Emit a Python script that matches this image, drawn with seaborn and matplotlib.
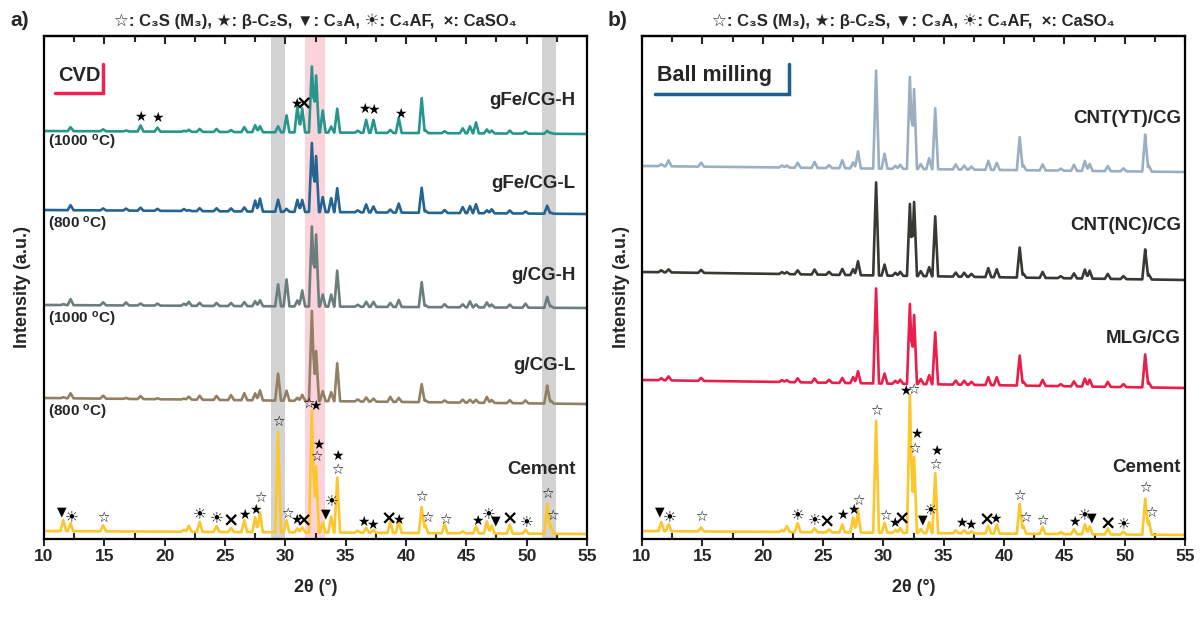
import numpy as np
import pandas as pd
import matplotlib
matplotlib.use("Agg")
import matplotlib.pyplot as plt
import seaborn as sns

# ---------------- data ----------------
# common reflection positions (2theta, deg)
two_theta = [11.6, 12.2, 14.9, 16.8, 18.0, 19.4, 21.6, 22.0, 22.9, 24.3,
             25.5, 26.6, 27.5, 27.9, 29.4, 30.1, 31.0, 31.4, 32.2, 32.55,
             33.1, 33.8, 34.3, 36.0, 36.7, 37.3, 38.7, 39.4, 41.3, 41.6,
             43.2, 44.7, 45.3, 45.8, 46.7, 47.1, 48.6, 49.9, 51.7, 52.0]

# peak intensities (a.u.) for each sample at the positions above
gFe_CG_H = [0, 4, 2, 1, 6, 4, 1, 2, 3, 3, 2, 5, 7, 6, 6, 17, 26, 24, 66, 57,
            22, 6, 24, 2, 13, 13, 3, 15, 35, 3, 2, 5, 7, 11, 4, 3, 3, 2, 3, 1]
gFe_CG_L = [0, 5, 2, 2, 3, 2, 2, 1, 3, 3, 3, 4, 11, 13, 12, 3, 12, 12, 69, 56,
            15, 14, 24, 2, 8, 6, 3, 9, 25, 2, 3, 6, 7, 9, 3, 4, 3, 2, 8, 1]
g_CG_H = [1, 6, 3, 3, 2, 2, 2, 4, 3, 3, 3, 4, 5, 6, 22, 27, 6, 16, 80, 72,
          12, 12, 36, 2, 5, 5, 4, 7, 25, 2, 3, 3, 6, 3, 5, 3, 3, 4, 11, 2]
g_CG_L = [1, 5, 3, 1, 3, 1, 1, 3, 4, 4, 5, 7, 7, 10, 27, 10, 3, 6, 90, 50,
          10, 9, 38, 2, 4, 3, 5, 4, 18, 2, 2, 3, 3, 3, 6, 3, 3, 3, 18, 3]
cement_a = [11, 8, 6, 0, 0, 0, 2, 6, 10, 6, 4, 12, 15, 20, 100, 12, 4, 5, 122, 66,
            10, 16, 55, 2, 5, 3, 11, 12, 26, 8, 9, 2, 0, 7, 12, 8, 9, 4, 30, 8]

CNT_YT_CG = [2, 6, 4, 0, 0, 0, 2, 2, 5, 6, 3, 8, 6, 17, 98, 15, 3, 4, 92, 80,
             5, 11, 61, 5, 4, 3, 9, 7, 33, 5, 6, 2, 0, 6, 10, 7, 5, 3, 37, 6]
CNT_NC_CG = [2, 3, 3, 0, 0, 0, 2, 2, 4, 5, 3, 6, 6, 14, 93, 11, 3, 4, 72, 74,
             5, 9, 60, 4, 4, 3, 9, 8, 30, 4, 6, 2, 0, 5, 9, 8, 5, 3, 30, 5]
MLG_CG = [2, 4, 3, 0, 0, 0, 2, 2, 4, 4, 3, 5, 6, 12, 95, 10, 3, 4, 80, 69,
          5, 9, 52, 4, 4, 3, 8, 8, 30, 4, 6, 2, 0, 5, 8, 7, 5, 3, 33, 5]
cement_b = [9, 7, 4, 0, 0, 0, 2, 6, 9, 4, 3, 8, 15, 22, 112, 10, 3, 5, 138, 76,
            4, 11, 60, 3, 3, 2, 8, 9, 30, 8, 7, 2, 0, 5, 10, 8, 6, 3, 36, 14]

samples_a = ["gFe/CG-H", "gFe/CG-L", "g/CG-H", "g/CG-L", "Cement"]
samples_b = ["CNT(YT)/CG", "CNT(NC)/CG", "MLG/CG", "Cement"]
temps_a = ["(1000 $^{o}$C)", "(800 $^{o}$C)", "(1000 $^{o}$C)", "(800 $^{o}$C)"]
phase_key = "☆: C₃S (M₃), ★: β-C₂S, ▼: C₃A, ☀: C₄AF,  ×: CaSO₄"

# phase marks: (2theta, phase, height above the pattern baseline)
marks_cement_a = [(11.5, 'v', 19), (12.3, 'f', 15), (14.9, 'o', 13), (22.9, 'f', 18),
                  (24.3, 'f', 14), (25.5, 'x', 11), (26.6, 's', 17), (27.5, 's', 22),
                  (27.95, 'o', 34), (29.4, 'o', 110), (30.15, 'o', 18), (30.9, 's', 12),
                  (31.55, 'x', 12), (31.9, 'o', 128), (32.5, 's', 127), (32.75, 's', 88),
                  (32.6, 'o', 75), (33.35, 'v', 19), (33.85, 'f', 32), (34.35, 's', 77),
                  (34.3, 'o', 63), (36.5, 's', 11), (37.2, 's', 8), (38.6, 'x', 14),
                  (39.4, 's', 13), (41.3, 'o', 36), (41.75, 'o', 15), (43.3, 'o', 13),
                  (45.9, 's', 12), (46.8, 'f', 20), (47.4, 'v', 13), (48.6, 'x', 15),
                  (50.0, 'f', 12), (51.7, 'o', 40), (52.1, 'o', 18)]
marks_gFe_H = [(18.0, 's', 15), (19.4, 's', 14), (30.95, 's', 28), (31.55, 'x', 29),
               (36.55, 's', 24), (37.3, 's', 23), (39.5, 's', 19)]
marks_cement_b = [(11.5, 'v', 19), (12.3, 'f', 15), (14.9, 'o', 14), (22.9, 'f', 18),
                  (24.3, 'f', 13), (25.3, 'x', 10), (26.6, 's', 18), (27.5, 's', 23),
                  (27.95, 'o', 32), (29.4, 'o', 122), (30.15, 'o', 17), (30.9, 's', 10),
                  (31.55, 'x', 14), (31.85, 's', 142), (32.45, 'o', 143), (32.7, 's', 99),
                  (32.55, 'o', 84), (33.3, 'v', 13), (33.9, 'f', 23), (34.4, 's', 82),
                  (34.3, 'o', 68), (36.5, 's', 10), (37.2, 's', 8), (38.6, 'x', 14),
                  (39.3, 's', 15), (41.3, 'o', 38), (41.75, 'o', 16), (43.2, 'o', 13),
                  (45.8, 's', 12), (46.7, 'f', 20), (47.3, 'v', 16), (48.6, 'x', 11),
                  (49.9, 'f', 11), (51.7, 'o', 47), (52.25, 'o', 22)]

# ---------------- style / layout ----------------
sns.set_style("ticks")
plt.rcParams['font.family'] = ['Liberation Sans', 'DejaVu Sans']
plt.rcParams['font.weight'] = 'bold'
plt.rcParams['axes.labelweight'] = 'bold'
plt.rcParams['mathtext.fontset'] = 'custom'
plt.rcParams['mathtext.rm'] = 'Liberation Sans:bold'
plt.rcParams['mathtext.it'] = 'Liberation Sans:bold'
plt.rcParams['mathtext.bf'] = 'Liberation Sans:bold'
plt.rcParams['mathtext.default'] = 'rm'

W, H = 1201, 620
BOT, TOP = 539, 36                 # pixel rows of the plot frame
A_LEFT, B_LEFT, AX_W = 44, 642, 543
HALF_W = 0.24                      # half base width of a reflection (deg)

colors_a = {"gFe/CG-H": "#26968c", "gFe/CG-L": "#246491", "g/CG-H": "#6c7d7d",
            "g/CG-L": "#918064", "Cement": "#fdc62a"}
colors_b = {"CNT(YT)/CG": "#9bafc3", "CNT(NC)/CG": "#373932", "MLG/CG": "#ea1e4b",
            "Cement": "#fdc62a"}
# baseline pixel rows at 2theta = 10 and 55 (vertical stacking of patterns)
stack_a = {"gFe/CG-H": (131, 134), "gFe/CG-L": (210, 214), "g/CG-H": (305, 308),
           "g/CG-L": (398, 404), "Cement": (531, 534)}
stack_b = {"CNT(YT)/CG": (166, 172), "CNT(NC)/CG": (272, 280), "MLG/CG": (380, 388),
           "Cement": (531, 535)}
label_rows_a = {"gFe/CG-H": 100, "gFe/CG-L": 183, "g/CG-H": 275, "g/CG-L": 365, "Cement": 470}
temp_rows_a = [142, 224, 319, 412]
label_rows_b = {"CNT(YT)/CG": 118, "CNT(NC)/CG": 225, "MLG/CG": 338, "Cement": 468}

GLYPH = {'o': ('☆', 10), 's': ('★', 10), 'v': ('▼', 9), 'f': ('☀', 11), 'x': ('×', 14)}

grid = np.linspace(10, 55, 4501)
pk = np.array(two_theta)


def baseline(stack, x):
    pl, pr = stack
    return BOT - (pl + (pr - pl) * (np.asarray(x) - 10) / 45.0)


def pattern(heights, stack):
    h = np.array(heights, dtype=float)
    tri = np.clip(1 - np.abs(grid[:, None] - pk[None, :]) / HALF_W, 0, None)
    return baseline(stack, grid) + tri @ h


def build(names, series, stacks):
    frames = []
    for n, s in zip(names, series):
        frames.append(pd.DataFrame({"two_theta": grid, "intensity": pattern(s, stacks[n]),
                                    "sample": n}))
    return pd.concat(frames, ignore_index=True)


df_a = build(samples_a, [gFe_CG_H, gFe_CG_L, g_CG_H, g_CG_L, cement_a], stack_a)
df_b = build(samples_b, [CNT_YT_CG, CNT_NC_CG, MLG_CG, cement_b], stack_b)

fig = plt.figure(figsize=(W / 100, H / 100), dpi=100)
ax_a = fig.add_axes([A_LEFT / W, 1 - BOT / H, AX_W / W, (BOT - TOP) / H])
ax_b = fig.add_axes([B_LEFT / W, 1 - BOT / H, AX_W / W, (BOT - TOP) / H])


def style_axis(ax):
    ax.set_xlim(10, 55)
    ax.set_ylim(0, BOT - TOP)
    ax.set_yticks([])
    ax.set_xticks(np.arange(10, 56, 5))
    ax.set_xticks(np.arange(12.5, 55, 5), minor=True)
    ax.tick_params(axis='x', which='major', direction='out', length=5, width=1.5,
                   labelsize=12.5, pad=2)
    ax.tick_params(axis='x', which='minor', direction='in', length=4, width=1.5)
    for sp in ax.spines.values():
        sp.set_visible(True)
        sp.set_linewidth(1.6)
        sp.set_color('black')
    sec = ax.secondary_xaxis('top')
    sec.set_xticks(np.arange(10, 56, 5))
    sec.set_xticks(np.arange(12.5, 55, 5), minor=True)
    sec.tick_params(axis='x', which='major', direction='in', length=6, width=1.5,
                    labeltop=False)
    sec.tick_params(axis='x', which='minor', direction='in', length=4, width=1.5)
    sec.spines['top'].set_linewidth(1.6)
    ax.set_xlabel("2θ (°)", fontsize=13, fontweight='bold', labelpad=11)
    ax.set_ylabel("Intensity (a.u.)", fontsize=13, fontweight='bold', labelpad=9)
    for lab in ax.get_xticklabels():
        lab.set_fontweight('bold')


def put_marks(ax, marks, stack):
    for x, ph, h in marks:
        g, fs = GLYPH[ph]
        ax.text(x, baseline(stack, x) + h, g, fontsize=fs, ha='center', va='center',
                color='black', family=['DejaVu Sans'], zorder=5)


# panel a
ax_a.axvspan(28.85, 29.95, color='#d3d3d3', lw=0, zorder=0)
ax_a.axvspan(31.65, 33.25, color='#fdd3db', lw=0, zorder=0)
ax_a.axvspan(51.3, 52.4, color='#d3d3d3', lw=0, zorder=0)
sns.lineplot(data=df_a, x="two_theta", y="intensity", hue="sample", palette=colors_a,
             hue_order=samples_a, sort=False, estimator=None, legend=False,
             linewidth=1.9, ax=ax_a)
style_axis(ax_a)
put_marks(ax_a, marks_cement_a, stack_a["Cement"])
put_marks(ax_a, marks_gFe_H, stack_a["gFe/CG-H"])
xr_a = 10 + (576 - A_LEFT) / 12.07
for n in samples_a:
    ax_a.text(xr_a, BOT - label_rows_a[n], n, fontsize=13.5, fontweight='bold',
              ha='right', va='center')
for t, r in zip(temps_a, temp_rows_a):
    ax_a.text(10.35, BOT - r, t, fontsize=11, fontweight='bold', ha='left', va='center')

# CVD tag
ax_a.text(0.026, 0.922, "CVD", transform=ax_a.transAxes, fontsize=14.5,
          fontweight='bold', ha='left', va='center')
ax_a.plot([0.02, 0.109, 0.109], [0.887, 0.887, 0.945], transform=ax_a.transAxes,
          color='#ee2255', lw=2.5, solid_joinstyle='miter', clip_on=False)

# panel b
sns.lineplot(data=df_b, x="two_theta", y="intensity", hue="sample", palette=colors_b,
             hue_order=samples_b, sort=False, estimator=None, legend=False,
             linewidth=1.9, ax=ax_b)
style_axis(ax_b)
put_marks(ax_b, marks_cement_b, stack_b["Cement"])
xr_b = 10 + (1181 - B_LEFT) / 12.07
for n in samples_b:
    ax_b.text(xr_b, BOT - label_rows_b[n], n, fontsize=13.5, fontweight='bold',
              ha='right', va='center')
ax_b.text(0.028, 0.922, "Ball milling", transform=ax_b.transAxes, fontsize=15.5,
          fontweight='bold', ha='left', va='center')
ax_b.plot([0.024, 0.271, 0.271], [0.885, 0.885, 0.945], transform=ax_b.transAxes,
          color='#1e5f8c', lw=2.5, solid_joinstyle='miter', clip_on=False)

# titles and panel letters
for left in (A_LEFT, B_LEFT):
    fig.text((left + AX_W / 2) / W, 1 - 21 / H, phase_key, fontsize=12, fontweight='bold',
             ha='center', va='center', family=['Liberation Sans', 'DejaVu Sans'])
fig.text(10 / W, 1 - 20 / H, "a)", fontsize=15, fontweight='bold', ha='left', va='center')
fig.text(608 / W, 1 - 20 / H, "b)", fontsize=15, fontweight='bold', ha='left', va='center')

fig.savefig("out.png", dpi=100)
